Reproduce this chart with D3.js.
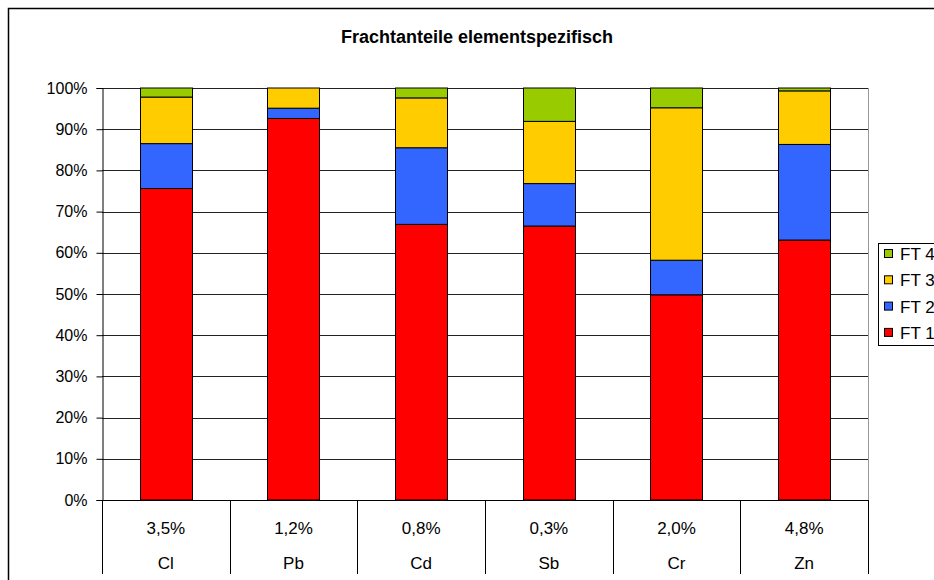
<!DOCTYPE html>
<html lang="de">
<head>
<meta charset="UTF-8">
<title>Frachtanteile elementspezifisch</title>
<script src="https://d3js.org/d3.v7.min.js"></script>
<style>
  body { margin: 0; background: #fff; }
  svg { font-family: "Liberation Sans", Arial, sans-serif; }
</style>
</head>
<body>
<svg id="chart" width="934" height="580"></svg>
<script>
// data (percent of load per fraction)
const elements = ["Cl", "Pb", "Cd", "Sb", "Cr", "Zn"];
const shares = ["3,5%", "1,2%", "0,8%", "0,3%", "2,0%", "4,8%"];
const ft1 = [75.6, 92.6, 66.9, 66.5, 49.8, 63.1];
const ft2 = [10.9, 2.5, 18.6, 10.3, 8.4, 23.2];
const ft3 = [11.3, 4.9, 12.1, 15.1, 37.0, 13.0];
const ft4 = [2.2, 0.0, 2.4, 8.1, 4.8, 0.7];
const seriesNames = ["FT 1", "FT 2", "FT 3", "FT 4"];
const colors = ["#ff0000", "#3366ff", "#ffcc00", "#99cc00"];
const yTicks = [0, 10, 20, 30, 40, 50, 60, 70, 80, 90, 100];

const svg = d3.select("#chart");
const plotLeft = 102, plotRight = 868, plotTop = 88, plotBottom = 500;

// outer chart frame
svg.append("rect")
    .attr("x", 8.5).attr("y", 8.5)
    .attr("width", 1000).attr("height", 1000)
    .attr("fill", "none").attr("stroke", "#000").attr("stroke-width", 1.5);

svg.append("text")
    .attr("x", 477).attr("y", 43)
    .attr("text-anchor", "middle")
    .attr("font-size", 18).attr("font-weight", "bold")
    .text("Frachtanteile elementspezifisch");

const x = d3.scaleBand().domain(elements).range([plotLeft, plotRight]).paddingInner(0);
const y = d3.scaleLinear().domain([0, 100]).range([plotBottom, plotTop]);

// gridlines
svg.append("g").selectAll("line")
    .data(yTicks.filter(d => d > 0))
    .join("line")
    .attr("x1", plotLeft).attr("x2", plotRight)
    .attr("y1", d => Math.round(y(d)) + 0.5).attr("y2", d => Math.round(y(d)) + 0.5)
    .attr("stroke", "#222");

// right border of plot
svg.append("line")
    .attr("x1", plotRight + 0.5).attr("x2", plotRight + 0.5)
    .attr("y1", plotTop).attr("y2", plotBottom)
    .attr("stroke", "#999");

// stacked bars
const table = elements.map((e, i) => ({ el: e, "FT 1": ft1[i], "FT 2": ft2[i], "FT 3": ft3[i], "FT 4": ft4[i] }));
const stack = d3.stack().keys(seriesNames)(table);
const barW = x.bandwidth() * 0.41;

svg.append("g").selectAll("g")
    .data(stack)
    .join("g")
    .attr("fill", (d, i) => colors[i])
    .selectAll("rect")
    .data(d => d.filter(s => s[1] - s[0] > 0))
    .join("rect")
    .attr("x", d => Math.round(x(d.data.el) + (x.bandwidth() - barW) / 2) + 0.5)
    .attr("width", Math.round(barW))
    .attr("y", d => y(d[1]))
    .attr("height", d => y(d[0]) - y(d[1]))
    .attr("stroke", "#000").attr("stroke-width", 1);

// y axis
const yAxis = d3.axisLeft(y).tickValues(yTicks).tickFormat(d => d + "%").tickSize(6).tickPadding(9);
const ya = svg.append("g").attr("transform", `translate(${plotLeft + 0.5},0)`).call(yAxis);
ya.select(".domain").attr("stroke", "#000");
ya.selectAll(".tick line").attr("stroke", "#000");
ya.selectAll("text").attr("font-size", 16).attr("font-family", "Liberation Sans, Arial, sans-serif").attr("fill", "#000");

// x axis base line and category dividers
svg.append("line")
    .attr("x1", plotLeft).attr("x2", plotRight)
    .attr("y1", plotBottom + 0.5).attr("y2", plotBottom + 0.5)
    .attr("stroke", "#000");

const bounds = elements.map(e => x(e)).concat([plotRight]);
svg.append("g").selectAll("line")
    .data(bounds)
    .join("line")
    .attr("x1", d => Math.round(d) + 0.5).attr("x2", d => Math.round(d) + 0.5)
    .attr("y1", plotBottom).attr("y2", 574)
    .attr("stroke", "#000");

svg.append("g").selectAll("text")
    .data(elements)
    .join("text")
    .attr("x", d => x(d) + x.bandwidth() / 2)
    .attr("y", 534)
    .attr("text-anchor", "middle")
    .attr("font-size", 17)
    .text((d, i) => shares[i]);

svg.append("g").selectAll("text")
    .data(elements)
    .join("text")
    .attr("x", d => x(d) + x.bandwidth() / 2)
    .attr("y", 569)
    .attr("text-anchor", "middle")
    .attr("font-size", 17)
    .text(d => d);

// legend
const lg = svg.append("g").attr("transform", "translate(878,243)");
lg.append("rect")
    .attr("x", 0.5).attr("y", 0.5).attr("width", 80).attr("height", 102)
    .attr("fill", "#fff").attr("stroke", "#000");
const legendOrder = seriesNames.map((n, i) => i).reverse();
legendOrder.forEach((si, k) => {
    const cy = 11 + k * 26.3;
    lg.append("rect")
        .attr("x", 6.5).attr("y", cy - 4.5).attr("width", 8).attr("height", 8)
        .attr("fill", colors[si]).attr("stroke", "#000");
    lg.append("text")
        .attr("x", 22).attr("y", cy + 6)
        .attr("font-size", 17)
        .text(seriesNames[si]);
});
</script>
</body>
</html>
